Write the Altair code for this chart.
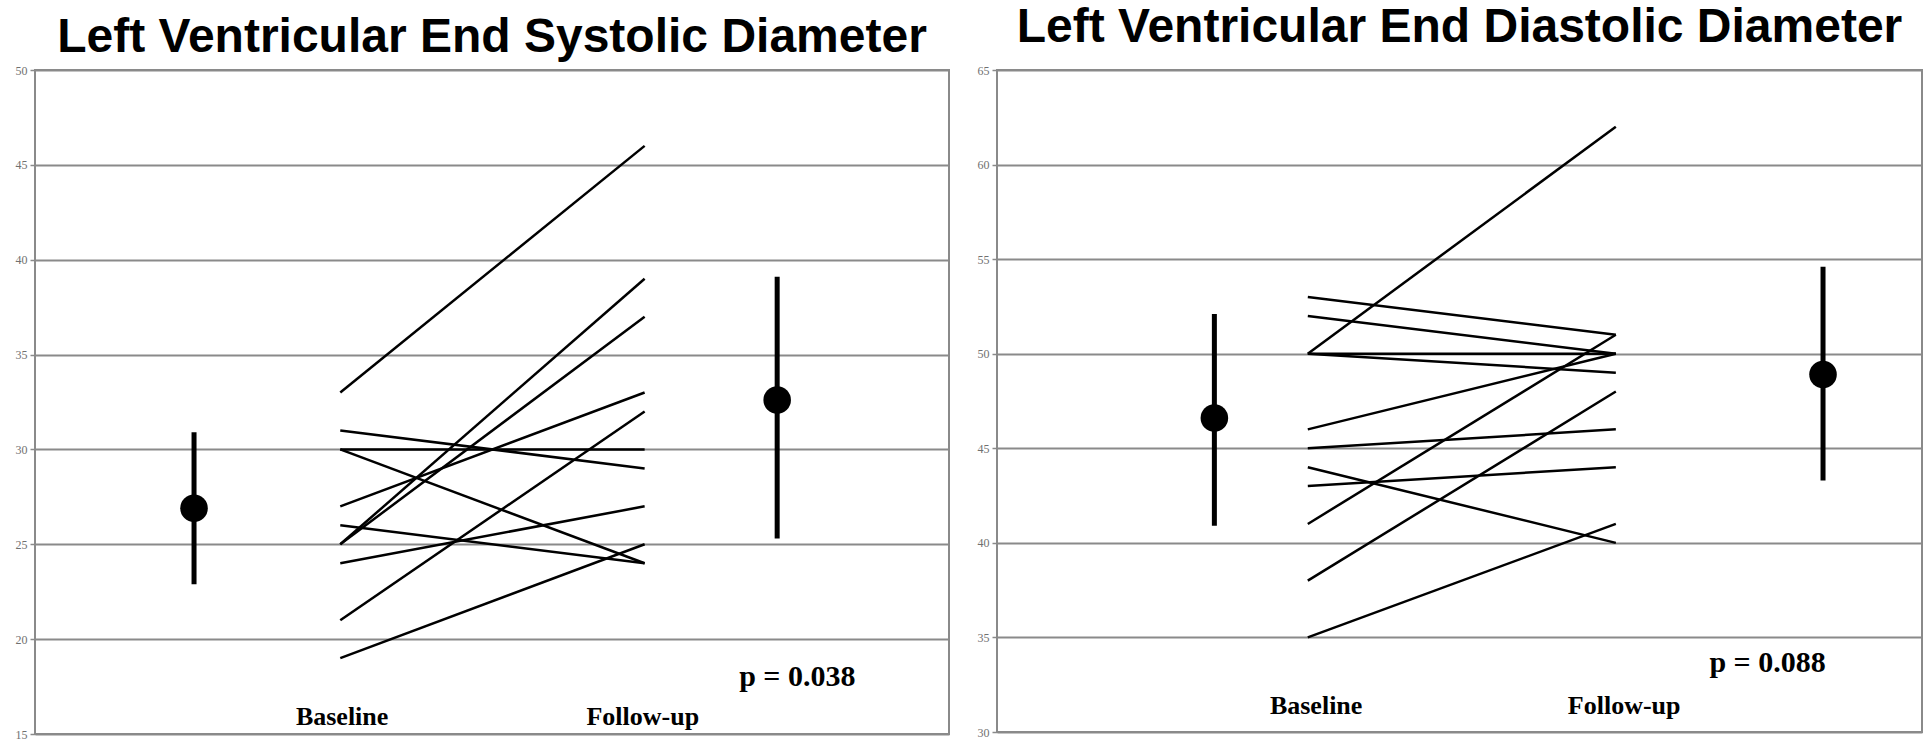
import altair as alt
import pandas as pd

# Per-patient diameters (mm) at baseline and follow-up
esd_baseline = [33, 31, 30, 30, 27, 26, 25, 25, 24, 21, 19]
esd_followup = [46, 29, 30, 24, 33, 24, 39, 37, 27, 32, 25]
edd_baseline = [50, 53, 52, 50, 50, 46, 45, 44, 43, 41, 38, 35]
edd_followup = [62, 51, 50, 50, 49, 50, 46, 40, 44, 51, 48, 41]

# Group summaries: mean, lower, upper
esd_summary = {"Baseline": [26.9, 22.9, 30.9], "Follow-up": [32.6, 25.3, 39.1]}
edd_summary = {"Baseline": [46.6, 40.9, 52.1], "Follow-up": [48.9, 43.3, 54.6]}

p_values = ["p = 0.038", "p = 0.088"]
titles = ["Left Ventricular End Systolic Diameter", "Left Ventricular End Diastolic Diameter"]
time_labels = ["Baseline", "Follow-up"]

GRID = "#8a8a8a"


def panel(base, follow, summary, ydom, title, ptext, layout, width, height, title_offset):
    xpos = layout["lines"]
    pairs = pd.DataFrame(
        [{"id": i, "x": xpos[0], "y": b} for i, b in enumerate(base)]
        + [{"id": i, "x": xpos[1], "y": f} for i, f in enumerate(follow)]
    )
    stats = pd.DataFrame(
        [
            {"x": layout["means"][k], "m": summary[t][0], "lo": summary[t][1], "hi": summary[t][2]}
            for k, t in enumerate(time_labels)
        ]
    )
    labels = pd.DataFrame(
        [{"x": layout["labels"][k], "y": layout["label_y"], "t": t} for k, t in enumerate(time_labels)]
    )
    ptab = pd.DataFrame([{"x": layout["p"][0], "y": layout["p"][1], "t": ptext}])

    xs = alt.Scale(domain=[0, 1], nice=False, zero=False)
    ys = alt.Scale(domain=ydom, nice=False, zero=False)
    yticks = list(range(ydom[0], ydom[1] + 1, 5))

    lines = alt.Chart(pairs).mark_line(color="black", strokeWidth=2.5).encode(
        x=alt.X("x:Q", scale=xs, axis=None),
        y=alt.Y(
            "y:Q",
            scale=ys,
            title=None,
            axis=alt.Axis(
                values=yticks,
                grid=True,
                gridColor=GRID,
                gridWidth=2,
                domain=False,
                ticks=True,
                tickColor=GRID,
                tickSize=5,
                tickWidth=1.5,
                labelFont="Liberation Sans Narrow",
                labelFontSize=12,
                labelColor="#707070",
                labelPadding=3,
            ),
        ),
        detail="id:N",
    )
    bars = alt.Chart(stats).mark_rule(color="black", strokeWidth=5).encode(
        x=alt.X("x:Q", scale=xs), y=alt.Y("lo:Q", scale=ys), y2="hi:Q"
    )
    dots = alt.Chart(stats).mark_circle(color="black", opacity=1, size=760).encode(
        x=alt.X("x:Q", scale=xs), y=alt.Y("m:Q", scale=ys)
    )
    tlab = alt.Chart(labels).mark_text(
        font="Liberation Serif", fontWeight="bold", fontSize=26, color="black", baseline="middle"
    ).encode(x=alt.X("x:Q", scale=xs), y=alt.Y("y:Q", scale=ys), text="t:N")
    plab = alt.Chart(ptab).mark_text(
        font="Liberation Serif", fontWeight="bold", fontSize=30, color="black", baseline="middle"
    ).encode(x=alt.X("x:Q", scale=xs), y=alt.Y("y:Q", scale=ys), text="t:N")

    return alt.layer(lines, bars, dots, tlab, plab).properties(
        width=width,
        height=height,
        title=alt.TitleParams(
            title,
            font="Liberation Sans",
            fontWeight="bold",
            fontSize=48,
            color="black",
            anchor="middle",
            offset=title_offset,
        ),
    )


left = panel(
    esd_baseline, esd_followup, esd_summary, [15, 50], titles[0], p_values[0],
    {"lines": [0.334, 0.667], "means": [0.174, 0.812], "labels": [0.336, 0.665],
     "label_y": 15.9, "p": [0.834, 18.0]},
    914, 664, 2,
)
right = panel(
    edd_baseline, edd_followup, edd_summary, [30, 65], titles[1], p_values[1],
    {"lines": [0.336, 0.669], "means": [0.235, 0.893], "labels": [0.345, 0.678],
     "label_y": 31.4, "p": [0.833, 33.65]},
    925, 662, 12,
)

chart = (
    alt.hconcat(left, right, spacing=26)
    .properties(padding={"left": 14, "top": 3, "right": 6, "bottom": 0}, background="white")
    .configure_view(stroke=GRID, strokeWidth=2)
)

chart.save("out.html", embed_options={"renderer": "svg", "actions": False})
